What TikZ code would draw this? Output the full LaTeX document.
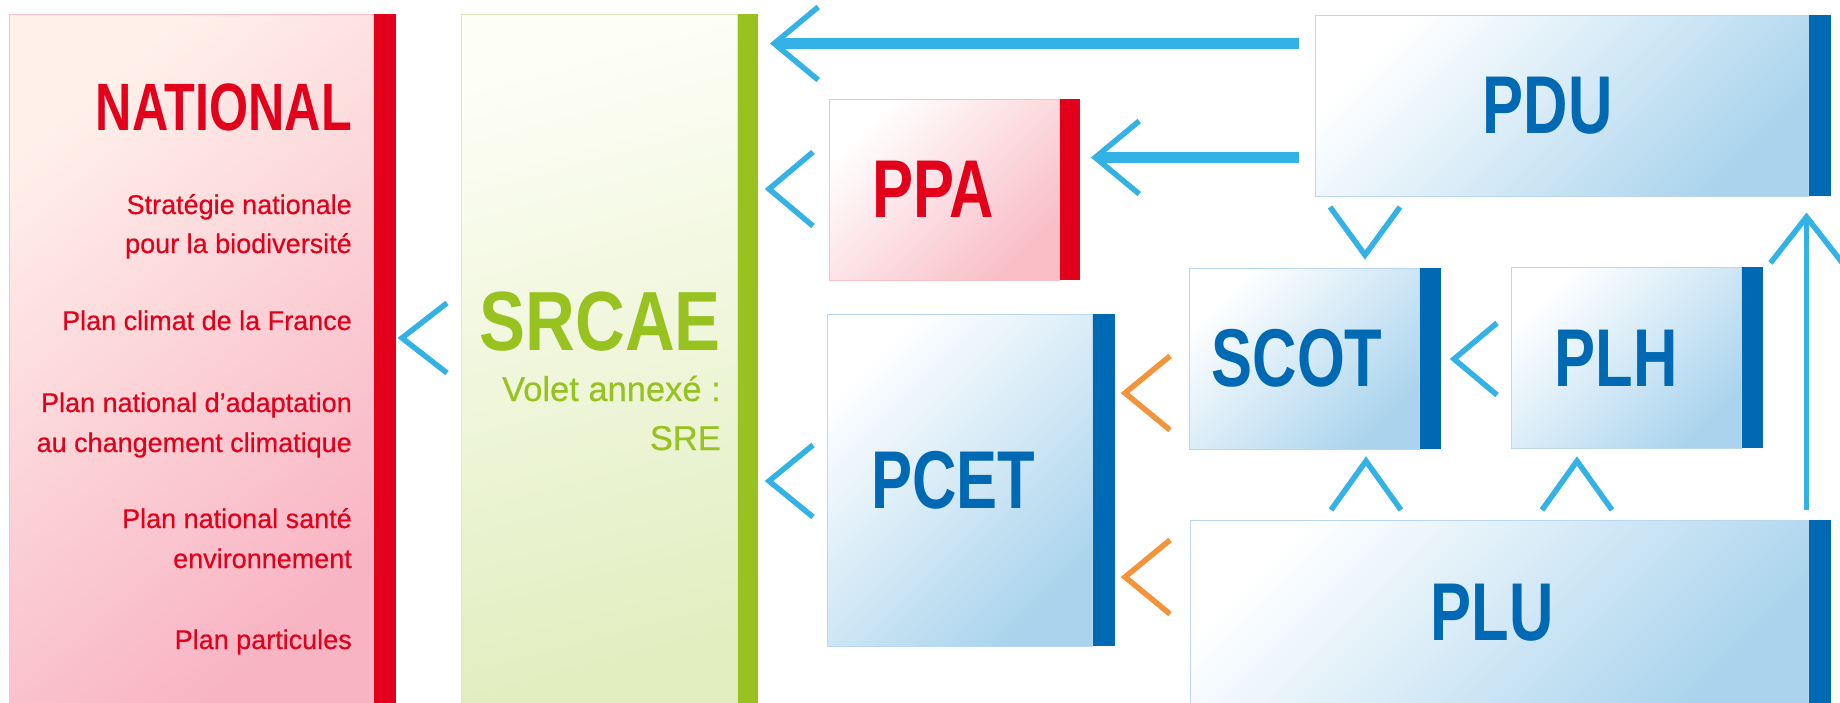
\documentclass[tikz,border=0pt]{standalone}
\usepackage{fontspec}
\setmainfont{Liberation Sans}
\newfontfamily\headfont{Liberation Sans}[FakeStretch=0.75]
\newfontfamily\srcaefont{Liberation Sans}[FakeStretch=0.82]
\newfontfamily\itemfont{Liberation Sans}[FakeBold=0.5]
\usetikzlibrary{positioning,calc,arrows.meta}

\definecolor{natred}{RGB}{226,0,26}
\definecolor{natlight}{RGB}{255,240,234}
\definecolor{natpink}{RGB}{248,180,195}
\definecolor{ppapink}{RGB}{249,190,198}
\definecolor{natborder}{RGB}{250,192,202}
\definecolor{srgreen}{RGB}{151,194,31}
\definecolor{srlight}{RGB}{253,254,246}
\definecolor{srdark}{RGB}{226,238,192}
\definecolor{srborder}{RGB}{222,235,184}
\definecolor{plblue}{RGB}{0,105,180}
\definecolor{boxblue}{RGB}{170,212,237}
\definecolor{boxborder}{RGB}{186,215,240}
\definecolor{arrowblue}{RGB}{51,178,230}
\definecolor{arroworange}{RGB}{244,148,58}

\newcommand{\headbig}{\headfont\bfseries\fontsize{82}{82}\selectfont}

\tikzset{
  pics/chev/.style n args={3}{code={%
    \draw[#3, line width=5.5pt, line join=miter, line cap=butt] (#1,-#2) -- (0,0) -- (#1,#2);}}
}

\begin{document}
\begin{tikzpicture}[x=1pt, y=-1pt,
    box/.style={rectangle, line width=1pt, inner sep=0pt},
    natbox/.style={box, draw=natborder, top color=natlight, bottom color=natpink, shading angle=40},
    srbox/.style={box, draw=srborder, top color=srlight, bottom color=srdark, shading angle=15},
    ppabox/.style={box, draw=natborder, top color=white, bottom color=ppapink, shading angle=45, text=natred, font=\headbig},
    bluebox/.style={box, draw=boxborder, top color=white, bottom color=boxblue, shading angle=45, text=plblue, font=\headbig},
    bar/.style={rectangle, inner sep=0pt, anchor=north west},
    natitem/.style={anchor=base east, inner sep=0pt, text=natred, font=\itemfont\fontsize{27}{27}\selectfont},
    srtext/.style={anchor=base east, inner sep=0pt, text=srgreen},
    bigarrow/.style={draw=arrowblue, line width=11pt, -{Straight Barb[sharp, length=44pt, width=73pt, line width=5.5pt]}},
    uparrow/.style={draw=arrowblue, line width=5.5pt, -{Straight Barb[sharp, length=46pt, width=72pt, line width=5.5pt]}}]
  \useasboundingbox (0,0) rectangle (1840,702);

  % National column
  \node[natbox, minimum width=364, minimum height=692] (national) at (191,360) {};
  \node[bar, fill=natred, minimum width=22, minimum height=692] (nationalbar) at (national.north east) {};
  \node[natitem, font=\headfont\bfseries\fontsize{67}{67}\selectfont] (nattitle) at (352,130) {NATIONAL};
  \foreach \y/\t [count=\i] in {214/Stratégie nationale, 253/pour la biodiversité,
      330/Plan climat de la France, 412/Plan national d’adaptation, 452/au changement climatique,
      528/Plan national santé, 568/environnement, 649/Plan particules}
    \node[natitem] (item\i) at (352,\y) {\t};

  % SRCAE column
  \node[srbox, minimum width=276, minimum height=692] (srcae) at (599,360) {};
  \node[bar, fill=srgreen, minimum width=20, minimum height=692] (srcaebar) at (srcae.north east) {};
  \node[srtext, font=\srcaefont\bfseries\fontsize{84}{84}\selectfont] (srcaetitle) at (721,350) {SRCAE};
  \node[srtext, font=\itemfont\fontsize{34.5}{34.5}\selectfont] (volet) at (721,401) {Volet annexé :};
  \node[srtext, font=\itemfont\fontsize{34.5}{34.5}\selectfont] (sre) at (721,450) {SRE};

  % Local plans
  \node[bluebox, minimum width=493, minimum height=181] (pdu) at (1561.5,105.5) {PDU\hspace*{28pt}};
  \node[bar, fill=plblue, minimum width=22, minimum height=181] (pdubar) at (pdu.north east) {};
  \node[ppabox, minimum width=230, minimum height=181] (ppa) at (944,189.5) {PPA\hspace*{22pt}};
  \node[bar, fill=natred, minimum width=20, minimum height=181] (ppabar) at (ppa.north east) {};
  \node[bluebox, minimum width=230, minimum height=181] (scot) at (1304,358.5) {SCOT\hspace*{14pt}};
  \node[bar, fill=plblue, minimum width=21, minimum height=181] (scotbar) at (scot.north east) {};
  \node[bluebox, minimum width=230, minimum height=181, right=70pt of scotbar] (plh) {PLH\hspace*{20pt}};
  \node[bar, fill=plblue, minimum width=21, minimum height=181] (plhbar) at (plh.north east) {};
  \node[bluebox, minimum width=265, minimum height=332] (pcet) at (959.5,480) {PCET\hspace*{12pt}};
  \node[bar, fill=plblue, minimum width=22, minimum height=332] (pcetbar) at (pcet.north east) {};
  \node[bluebox, minimum width=618, minimum height=186] (plu) at (1499,613) {PLU\hspace*{14pt}};
  \node[bar, fill=plblue, minimum width=22, minimum height=186] (plubar) at (plu.north east) {};

  % Arrows
  \draw[bigarrow] ($(pdu.north west)+(-16,29)$) -- ($(srcaebar.east |- pdu.north west)+(12,29)$);
  \draw[bigarrow] ($(pdu.south west)+(-16,-39)$) -- ($(ppabar.east |- pdu.south west)+(11,-39)$);
  \draw[uparrow] ($(plu.north east)+(-2,-10)$) -- ($(pdu.south east)+(-2,16)$);

  % Chevrons
  \pic at (402,338) {chev={45}{35}{arrowblue}};
  \pic at (769,189) {chev={44}{37}{arrowblue}};
  \pic at (769,481) {chev={44}{36}{arrowblue}};
  \pic at (1125,393) {chev={45}{37}{arroworange}};
  \pic at (1125,577) {chev={45}{37}{arroworange}};
  \pic at (1454,359) {chev={43}{36}{arrowblue}};
  \pic[rotate=90] at (1365,255) {chev={48}{35}{arrowblue}};
  \pic[rotate=-90] at (1366,461) {chev={49}{35}{arrowblue}};
  \pic[rotate=-90] at (1577,461) {chev={49}{35}{arrowblue}};
\end{tikzpicture}
\end{document}
